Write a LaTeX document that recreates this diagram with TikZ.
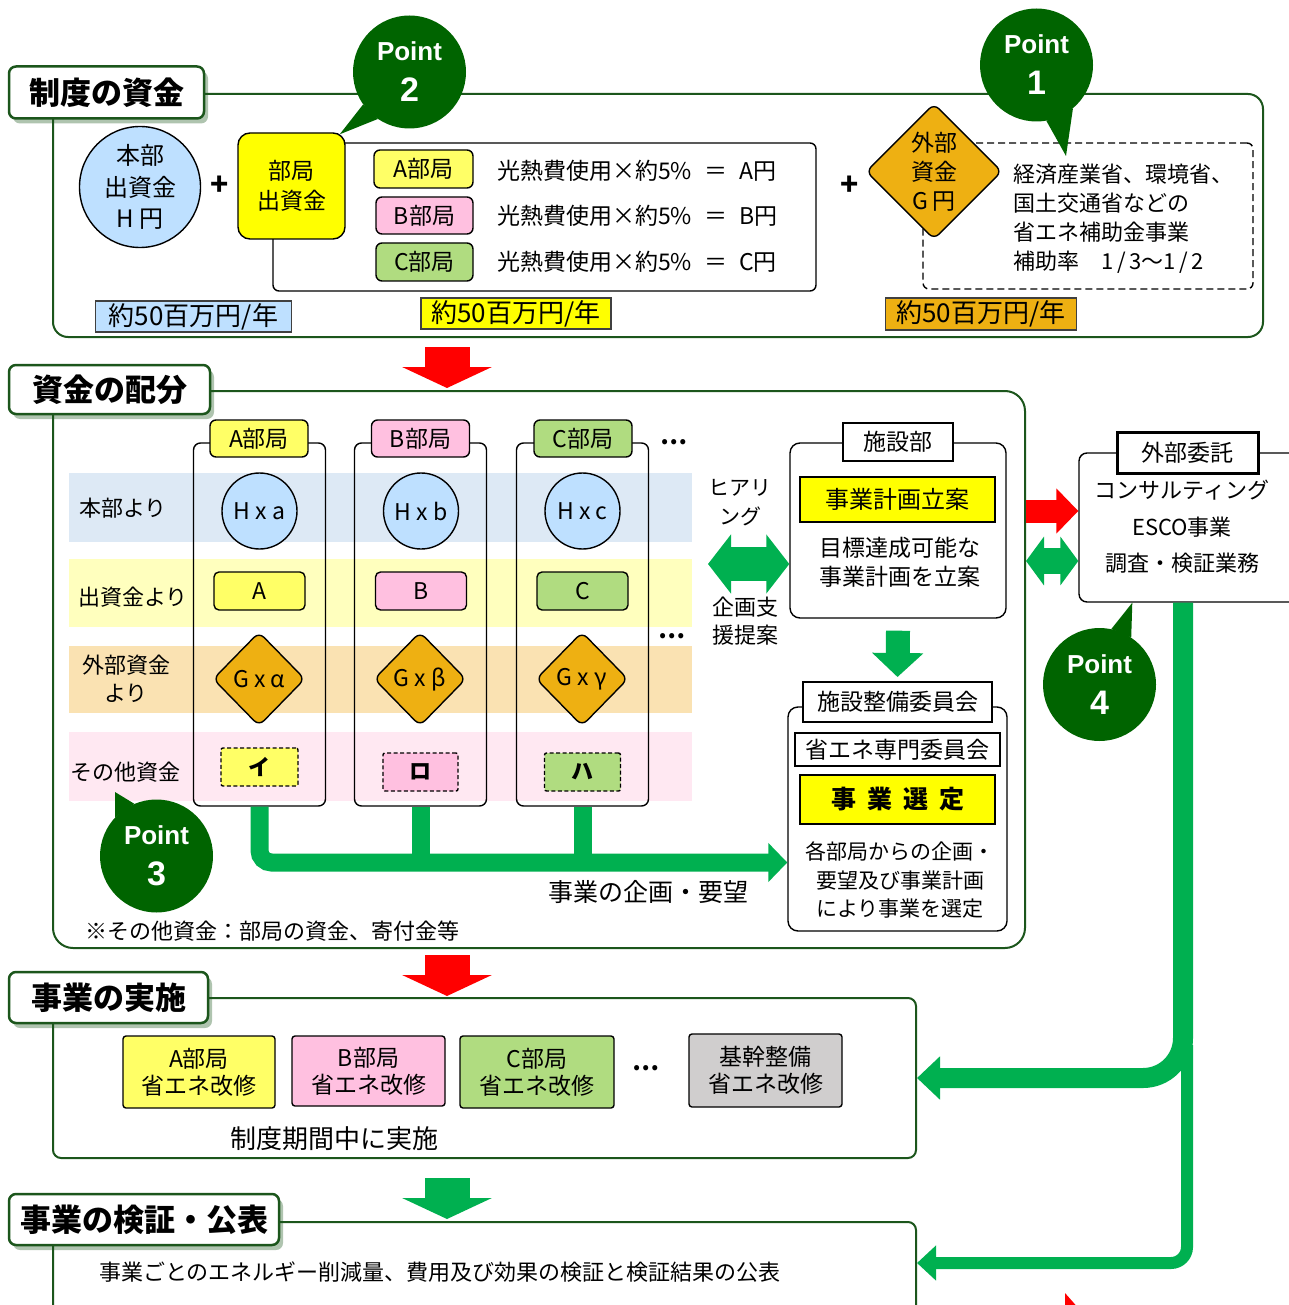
\documentclass[tikz,border=0pt]{standalone}
\usepackage{fontspec}
\setmainfont{Noto Sans CJK JP}
\newfontfamily\ptfont{Liberation Sans}
\usetikzlibrary{arrows.meta,shapes.geometric,shadows,calc}
\definecolor{frameg}{RGB}{28,86,28}
\definecolor{pointg}{RGB}{0,100,0}
\definecolor{grn}{RGB}{0,176,80}
\definecolor{lblue}{RGB}{190,224,255}
\definecolor{yelB}{RGB}{255,255,0}
\definecolor{yelL}{RGB}{255,255,102}
\definecolor{pinkL}{RGB}{255,192,224}
\definecolor{greenL}{RGB}{176,220,128}
\definecolor{orng}{RGB}{238,176,18}
\definecolor{grayL}{RGB}{208,206,206}
\definecolor{bandB}{RGB}{221,233,245}
\definecolor{bandY}{RGB}{255,255,190}
\definecolor{bandO}{RGB}{250,226,178}
\definecolor{bandP}{RGB}{255,232,242}
\newcommand{\fz}[2]{\fontsize{#1}{#2}\selectfont}
\tikzset{
  hd/.style={draw=frameg, line width=2.5pt, fill=white, rounded corners=7pt, inner sep=0pt,
     font=\fz{31}{36}\bfseries, drop shadow={shadow xshift=4pt, shadow yshift=-5pt, fill=frameg, opacity=0.35}},
  frm/.style={draw=frameg, line width=2pt, inner sep=0pt},
  bx/.style={draw, line width=1.4pt, rounded corners=#1, inner sep=0pt, align=center},
  bx/.default=6pt,
  sq/.style={draw, line width=2pt, inner sep=0pt, align=center, fill=white},
  txt/.style={inner sep=0pt, align=center},
  ptb/.style={circle, fill=pointg, minimum size=113pt, inner sep=0pt, text=white, align=center, font=\ptfont\bfseries\fz{26}{41}},
  dia/.style={diamond, draw, line width=1.4pt, fill=orng, rounded corners=7pt, inner sep=0pt, aspect=1},
  lbl/.style={draw=black!75, line width=1.5pt, inner sep=0pt, font=\fz{26}{28}},
  dsh/.style={dashed, dash pattern=on 4pt off 2.5pt},
}
\newcommand{\eqs}{\kern12pt＝\kern12pt}
\begin{document}
\begin{tikzpicture}[x=1pt,y=-1pt]
\useasboundingbox (0,0) rectangle (1288,1305);
\fill[white] (0,0) rectangle (1288,1305);

% ================= Section 1
\node[frm, rounded corners=15pt, minimum width=1210pt, minimum height=243pt] (f1) at (658,215.5) {};
\node[hd, minimum width=195pt, minimum height=52pt] (h1) at (106.5,92.5) {制度の資金};
\node[ellipse, draw, line width=1.4pt, fill=lblue, minimum width=121pt, minimum height=121pt, inner sep=0pt, align=center, font=\fz{24}{31.5}] (hq) at (140,187) {本部\\出資金\\H 円};
\node[txt, font=\fz{30}{30}\bfseries] (pl1) at (220,186) {+};
\node[bx, minimum width=543pt, minimum height=148pt] (brk) at (544.5,217) {};
\node[bx=12pt, fill=yelB, minimum width=107pt, minimum height=106pt, font=\fz{23}{30}] (dept) at (291.5,186) {部局\\出資金};
\node[bx, fill=yelL, minimum width=99pt, minimum height=38pt, font=\fz{23}{26}] (bA) at (423.5,169) {A部局};
\node[bx, fill=pinkL, minimum width=97pt, minimum height=37pt, font=\fz{23}{26}] (bB) at (424.5,215.5) {B部局};
\node[bx, fill=greenL, minimum width=97pt, minimum height=38pt, font=\fz{23}{26}] (bC) at (424.5,262) {C部局};
\node[txt, anchor=west, font=\fz{23}{26}] (eA) at (497,171) {光熱費使用×約5\%\eqs A円};
\node[txt, anchor=west, font=\fz{23}{26}] (eB) at (497,216) {光熱費使用×約5\%\eqs B円};
\node[txt, anchor=west, font=\fz{23}{26}] (eC) at (497,262) {光熱費使用×約5\%\eqs C円};
\node[txt, font=\fz{30}{30}\bfseries] (pl2) at (849.5,186) {+};
\node[draw, dsh, dash pattern=on 7pt off 4pt, line width=1.4pt, rounded corners=6pt, minimum width=330pt, minimum height=146pt, inner sep=0pt] (gbox) at (1088,216) {};
\node[dia, minimum width=136pt, minimum height=136pt] (gd) at (934,171.5) {};
\node[txt, font=\fz{23}{29}] (gdt) at (gd.center) {外部\\資金\\G 円};
\node[txt, anchor=west, align=left, font=\fz{22}{29}] (gtx) at (1013,219) {経済産業省、環境省、\\国土交通省などの\\省エネ補助金事業\\補助率　1\,/\,3～1\,/\,2};
\node[lbl, fill=lblue, minimum width=196pt, minimum height=31pt] (l1) at (193.5,316.5) {約50百万円/年};
\node[lbl, fill=yelB, minimum width=190pt, minimum height=31pt] (l2) at (516,313.5) {約50百万円/年};
\node[lbl, fill=orng, minimum width=191pt, minimum height=32pt] (l3) at (981,314) {約50百万円/年};

% ================= Section 2
\node[frm, rounded corners=20pt, minimum width=972pt, minimum height=557pt] (f2) at (539,669.5) {};
\node[hd, minimum width=201pt, minimum height=49pt] (h2) at (109.5,389.5) {資金の配分};
\fill[bandB] (69,473) rectangle (692,542);
\fill[bandY] (69,559) rectangle (692,627);
\fill[bandO] (69,646) rectangle (692,713);
\fill[bandP] (69,732) rectangle (692,801);
\node[txt, font=\fz{22}{27}] (r1) at (123,508) {本部より};
\node[txt, font=\fz{22}{27}] (r2) at (133,597.5) {出資金より};
\node[txt, font=\fz{22}{28}] (r3) at (126,679) {外部資金\\より};
\node[txt, font=\fz{22}{27}] (r4) at (125.5,772.5) {その他資金};

\node[bx=7pt, minimum width=132pt, minimum height=363pt] (colA) at (259.5,624.5) {};
\node[bx=7pt, minimum width=132pt, minimum height=363pt] (colB) at (420.5,624.5) {};
\node[bx=7pt, minimum width=132pt, minimum height=363pt] (colC) at (582.5,624.5) {};
\node[bx, fill=yelL, minimum width=98pt, minimum height=37pt, font=\fz{23}{26}] (tA) at (259,438.5) {A部局};
\node[bx, fill=pinkL, minimum width=98pt, minimum height=37pt, font=\fz{23}{26}] (tB) at (420.5,438.5) {B部局};
\node[bx, fill=greenL, minimum width=98pt, minimum height=37pt, font=\fz{23}{26}] (tC) at (583,438.5) {C部局};
\node[txt, font=\fz{24}{24}\bfseries] (dt1) at (674,442) {…};
\node[txt, font=\fz{24}{24}\bfseries] (dt2) at (672,636) {…};

\node[ellipse, draw, line width=1.4pt, fill=lblue, minimum width=75pt, minimum height=76pt, inner sep=0pt, font=\fz{23}{24}] (hA) at (259.5,511) {H x a};
\node[ellipse, draw, line width=1.4pt, fill=lblue, minimum width=75pt, minimum height=76pt, inner sep=0pt, font=\fz{23}{24}] (hB) at (421,511) {H x b};
\node[ellipse, draw, line width=1.4pt, fill=lblue, minimum width=75pt, minimum height=76pt, inner sep=0pt, font=\fz{23}{24}] (hC) at (582.5,511) {H x c};
\node[bx=5pt, fill=yelL, minimum width=91pt, minimum height=38pt, font=\fz{23}{24}] (aA) at (259.5,591) {A};
\node[bx=5pt, fill=pinkL, minimum width=91pt, minimum height=38pt, font=\fz{23}{24}] (aB) at (421,591) {B};
\node[bx=5pt, fill=greenL, minimum width=91pt, minimum height=38pt, font=\fz{23}{24}] (aC) at (582.5,591) {C};
\node[dia, minimum width=92pt, minimum height=94pt, font=\fz{23}{24}] (gA) at (259,679) {G x α};
\node[dia, minimum width=92pt, minimum height=94pt, font=\fz{23}{24}] (gB) at (420,679) {G x β};
\node[dia, minimum width=92pt, minimum height=94pt, font=\fz{23}{24}] (gC) at (582,679) {G x γ};
\node[bx=2pt, dsh, fill=yelL, minimum width=77pt, minimum height=38pt, font=\fz{22}{24}\bfseries] (oA) at (259.5,767) {イ};
\node[bx=2pt, dsh, fill=pinkL, minimum width=75pt, minimum height=38pt, font=\fz{22}{24}\bfseries] (oB) at (420.5,772) {ロ};
\node[bx=2pt, dsh, fill=greenL, minimum width=76pt, minimum height=38pt, font=\fz{22}{24}\bfseries] (oC) at (582.5,772) {ハ};

% facilities dept
\node[bx=10pt, minimum width=216pt, minimum height=175pt] (fac) at (898,530.5) {};
\node[sq, minimum width=110pt, minimum height=38pt, font=\fz{23}{26}] (facT) at (898,442) {施設部};
\node[draw, line width=1.5pt, fill=yelB, minimum width=195pt, minimum height=45pt, inner sep=0pt, font=\fz{24}{26}] (plan) at (897.5,499.5) {事業計画立案};
\node[txt, font=\fz{23}{29}] (plant) at (900,562.5) {目標達成可能な\\事業計画を立案};

% committee
\node[bx=10pt, minimum width=219pt, minimum height=224pt] (com) at (897.5,819) {};
\node[sq, minimum width=189pt, minimum height=40pt, font=\fz{23}{26}] (comT) at (897.5,702) {施設整備委員会};
\node[sq, minimum width=205pt, minimum height=33pt, font=\fz{23}{26}] (comS) at (897.5,749.5) {省エネ専門委員会};
\node[draw, line width=1.5pt, fill=yelB, minimum width=195pt, minimum height=49pt, inner sep=0pt, font=\fz{25}{28}\bfseries] (sel) at (897.5,799.5) {事\hspace{11pt}業\hspace{11pt}選\hspace{11pt}定};
\node[txt, font=\fz{21}{28.5}] (selt) at (900,880) {各部局からの企画・\\要望及び事業計画\\により事業を選定};

\node[txt, font=\fz{21}{29}] (hear) at (740,502.5) {ヒアリ\\ング};
\node[txt, font=\fz{22}{28}] (prop) at (745,621) {企画支\\援提案};
\node[txt, font=\fz{25}{28}] (req) at (648,892) {事業の企画・要望};
\node[txt, anchor=west, font=\fz{22}{26}] (note) at (85,931) {※その他資金：部局の資金、寄付金等};

% external
\node[bx=8pt, minimum width=321pt, minimum height=149pt] (ext) at (1239.5,527.5) {};
\node[sq, line width=3pt, minimum width=141pt, minimum height=41pt, font=\fz{23}{26}] (extT) at (1187.5,452.5) {外部委託};
\node[txt, font=\fz{22}{36.5}] (extt) at (1182,527) {コンサルティング\\ESCO事業\\調査・検証業務};

% connectors section 2
\coordinate (jn) at ($(com.west)+(0,43.5)$);
\draw[grn, line width=18pt, rounded corners=12pt, -{Triangle[length=19pt,width=38pt]}] (colA.south) |- (jn);
\draw[grn, line width=18pt] (colB.south) -- (colB.south |- jn);
\draw[grn, line width=18pt] (colC.south) -- (colC.south |- jn);
\coordinate (hl) at (708,564);
\draw[grn, line width=34pt, {Triangle[length=23pt,width=58pt]}-{Triangle[length=23pt,width=58pt]}] (hl) -- (fac.west |- hl);
\draw[grn, line width=24pt, -{Triangle[length=24pt,width=50pt]}] ($(fac.south)+(0,12)$) -- ($(comT.north)+(0,-4)$);
\coordinate (ra0) at (0,511);
\draw[red, line width=23pt, -{Triangle[length=22pt,width=44pt]}] (f2.east |- ra0) -- (ext.west |- ra0);
\coordinate (ga0) at (0,561);
\draw[grn, line width=26pt, {Triangle[length=18pt,width=48pt]}-{Triangle[length=18pt,width=48pt]}] (f2.east |- ga0) -- (ext.west |- ga0);

% ================= Section 3
\node[frm, rounded corners=8pt, minimum width=863pt, minimum height=160pt] (f3) at (484.5,1078) {};
\node[hd, minimum width=199pt, minimum height=51pt] (h3) at (108.5,997.5) {事業の実施};
\node[bx=3pt, fill=yelL, minimum width=152pt, minimum height=72pt, font=\fz{23}{27}] (iA) at (199,1072) {A部局\\省エネ改修};
\node[bx=3pt, fill=pinkL, minimum width=153pt, minimum height=70pt, font=\fz{23}{27}] (iB) at (368.5,1071) {B部局\\省エネ改修};
\node[bx=3pt, fill=greenL, minimum width=154pt, minimum height=72pt, font=\fz{23}{27}] (iC) at (537,1072) {C部局\\省エネ改修};
\node[txt, font=\fz{24}{24}\bfseries] (dt3) at (646,1068) {…};
\node[bx=3pt, fill=grayL, minimum width=153pt, minimum height=73pt, font=\fz{23}{27}] (iK) at (765.5,1070.5) {基幹整備\\省エネ改修};
\node[txt, font=\fz{26}{28}] (per) at (334,1139) {制度期間中に実施};

% ================= Section 4
\node[frm, rounded corners=8pt, minimum width=863pt, minimum height=130pt] (f4) at (484.5,1287) {};
\node[hd, minimum width=270pt, minimum height=51pt] (h4) at (144,1219.5) {事業の検証・公表};
\node[txt, anchor=west, font=\fz{22}{26}] (ver) at (99,1272) {事業ごとのエネルギー削減量、費用及び効果の検証と検証結果の公表};

% section arrows
\coordinate (ax) at (447,0);
\draw[red, line width=45pt, -{Triangle[length=21pt,width=89pt]}] ($(f1.south -| ax)+(0,9)$) -- ($(f2.north -| ax)+(0,-2)$);
\draw[red, line width=45pt, -{Triangle[length=21pt,width=89pt]}] ($(f2.south -| ax)+(0,6)$) -- ($(f3.north -| ax)+(0,-1)$);
\draw[grn, line width=45pt, -{Triangle[length=21pt,width=89pt]}] ($(f3.south -| ax)+(0,19)$) -- ($(f4.north -| ax)+(0,-2)$);

% outsourcing feedback
\coordinate (gox) at (1183,0);
\coordinate (goy) at (0,1078);
\draw[grn, line width=12pt, rounded corners=16pt, -{Triangle[length=19pt,width=34pt]}] (1187,1045) |- (f4.east |- 0,1263);
\draw[grn, line width=20pt, rounded corners=40pt, -{Triangle[length=23pt,width=42pt]}] (ext.south -| gox) |- (f3.east |- goy);
\fill[red] (1065,1293) -- (1065,1310) -- (1080,1310) -- cycle;

% ================= Point bubbles
\node[ptb] (p2) at (409.5,72) {Point\\{\fz{34}{41}2}};
\fill[pointg] (p2.215) -- (p2.236) -- ($(dept.north east)+(-6,2)$) -- cycle;
\node[ptb] (p1) at (1036.5,65) {Point\\{\fz{34}{41}1}};
\fill[pointg] (p1.280) -- (p1.310) -- (1066,156) -- cycle;
\node[ptb] (p3) at (156.5,856) {Point\\{\fz{34}{41}3}};
\fill[pointg] (p3.113) -- (p3.137) -- (115,792) -- cycle;
\node[ptb] (p4) at (1099.5,684.5) {Point\\{\fz{34}{41}4}};
\fill[pointg] (p4.56) -- (p4.78) -- ($(ext.south west)+(54,0)$) -- cycle;
\end{tikzpicture}
\end{document}
